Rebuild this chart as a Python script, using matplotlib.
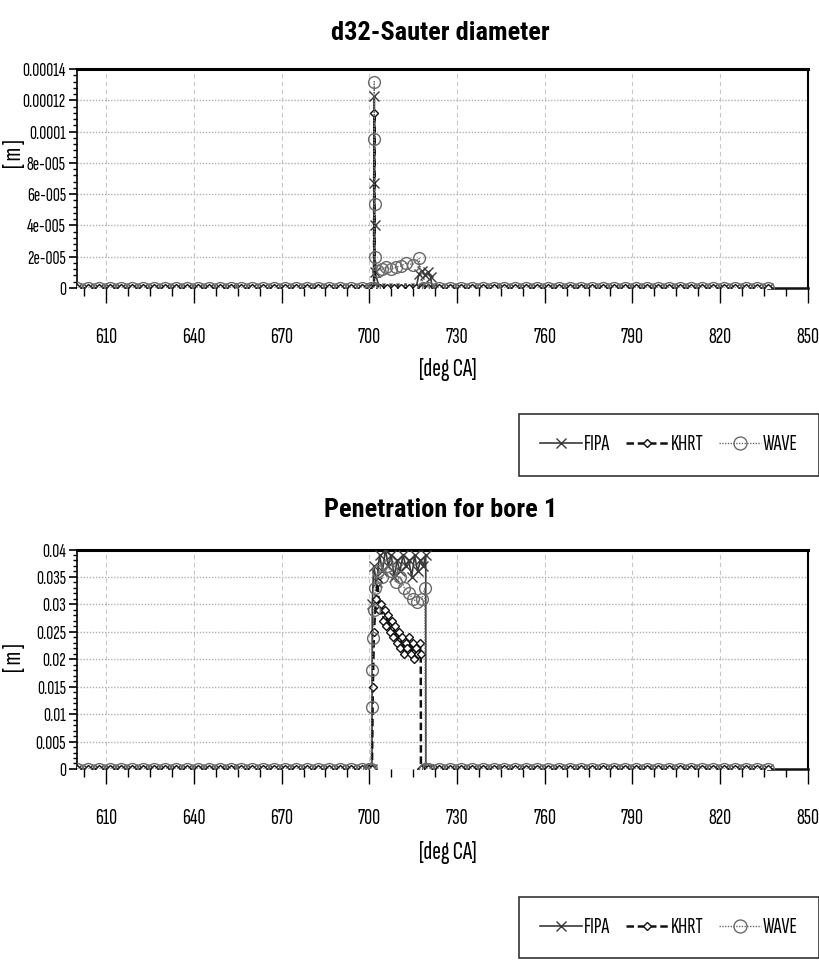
import numpy as np
import matplotlib
matplotlib.use('Agg')
import matplotlib.pyplot as plt
from matplotlib.ticker import FixedLocator, FixedFormatter
from matplotlib.lines import Line2D

plt.rcParams['font.family'] = ['Sofia Sans Extra Condensed', 'Roboto Condensed', 'DejaVu Sans']

# ---------------- data ----------------
# crank-angle grid of the flat (zero) parts, every 3.75 deg
pre_angle = np.arange(600.0, 699.0, 3.75)
post_angle = np.arange(720.0, 838.0, 3.75)
pre_zero = np.zeros_like(pre_angle)
post_zero = np.zeros_like(post_angle)

# d32 - Sauter diameter [m], injection event
d32_fipa_angle = [700.5, 701.6, 701.7, 701.75, 701.8, 701.9, 703.5, 706.0, 708.5, 711.0, 713.5,
                  716.0, 717.0, 718.0, 719.0, 720.0, 721.0, 721.5]
d32_fipa_value = [0.0, 0.0, 1.23e-4, 6.7e-5, 4.0e-5, 1.0e-5, 0.0, 0.0, 0.0, 0.0, 0.0,
                  0.0, 9.0e-6, 1.1e-5, 8.0e-6, 1.0e-5, 7.0e-6, 0.0]
d32_khrt_angle = [700.5, 701.6, 701.7, 701.8, 703.5, 706.0, 708.5, 711.0, 713.5, 716.0, 718.0]
d32_khrt_value = [0.0, 0.0, 1.12e-4, 0.0, 0.0, 0.0, 0.0, 0.0, 0.0, 0.0, 0.0]
d32_wave_angle = [700.5, 701.6, 701.7, 701.75, 701.8, 701.85, 703.0, 704.5, 705.7, 707.5,
                  709.1, 710.8, 712.6, 714.8, 717.0, 718.5]
d32_wave_value = [0.0, 0.0, 1.32e-4, 9.5e-5, 5.4e-5, 2.0e-5, 1.1e-5, 1.2e-5, 1.34e-5, 1.2e-5,
                  1.34e-5, 1.4e-5, 1.6e-5, 1.5e-5, 1.9e-5, 0.0]

# Penetration for bore 1 [m], injection event
pen_fipa_angle = [700.0, 700.9, 701.0, 701.5, 702.5, 703.5, 704.5, 705.5, 706.5, 707.5, 708.5,
                  709.5, 710.5, 711.5, 712.5, 713.5, 714.5, 715.5, 716.5, 717.5, 718.5, 719.3,
                  719.35, 720.0]
pen_fipa_value = [0.0, 0.0, 0.030, 0.037, 0.034, 0.039, 0.036, 0.040, 0.037, 0.039, 0.035,
                  0.038, 0.036, 0.039, 0.037, 0.038, 0.035, 0.039, 0.036, 0.038, 0.037, 0.039,
                  0.0, 0.0]
pen_khrt_angle = [700.0, 700.9, 701.2, 701.6, 702.2, 702.8, 703.4, 704.0, 704.6, 705.2, 705.8,
                  706.4, 707.0, 707.6, 708.2, 708.8, 709.4, 710.0, 710.6, 711.2, 711.8, 712.4,
                  713.0, 713.6, 714.2, 714.8, 715.4, 716.0, 716.6, 717.2, 717.6, 717.65]
pen_khrt_value = [0.0, 0.0, 0.015, 0.025, 0.031, 0.034, 0.029, 0.030, 0.027, 0.029, 0.026,
                  0.028, 0.025, 0.027, 0.024, 0.026, 0.023, 0.025, 0.022, 0.024, 0.021, 0.023,
                  0.022, 0.024, 0.021, 0.023, 0.020, 0.022, 0.021, 0.023, 0.021, 0.0]
pen_wave_angle = [700.0, 700.6, 700.8, 701.0, 701.3, 701.6, 702.0, 703.0, 704.5, 706.0, 707.5,
                  709.0, 710.5, 712.0, 713.5, 715.0, 716.3, 718.0, 719.0, 719.2]
pen_wave_value = [0.0, 0.0, 0.0113, 0.018, 0.0239, 0.029, 0.033, 0.036, 0.035, 0.037, 0.036,
                  0.034, 0.035, 0.033, 0.032, 0.031, 0.0304, 0.031, 0.033, 0.0]

x_ticks = [610, 640, 670, 700, 730, 760, 790, 820, 850]
d32_yticks = [0, 2e-5, 4e-5, 6e-5, 8e-5, 1e-4, 1.2e-4, 1.4e-4]
d32_ylabels = ['0', '2e-005', '4e-005', '6e-005', '8e-005', '0.0001', '0.00012', '0.00014']
pen_yticks = [0, 0.005, 0.01, 0.015, 0.02, 0.025, 0.03, 0.035, 0.04]
pen_ylabels = ['0', '0.005', '0.01', '0.015', '0.02', '0.025', '0.03', '0.035', '0.04']
series_names = ['FIPA', 'KHRT', 'WAVE']

# ---------------- styles ----------------
STY = {
    'FIPA': dict(color='#3a3a3a', ls='-', lw=1.2, marker='x', ms=7, mew=1.0, mfc='none', zorder=3),
    'KHRT': dict(color='#111111', ls=(0, (3, 1.5)), lw=1.8, marker='D', ms=4, mew=1.0, mfc='white', zorder=4),
    'WAVE': dict(color='#6a6a6a', ls=(0, (1, 1)), lw=1.0, marker='o', ms=8.5, mew=1.0, mfc='none', zorder=5),
}
TITLE_FONT = ['Roboto Condensed', 'DejaVu Sans']


def full(a_evt, v_evt):
    a = np.concatenate([pre_angle, np.asarray(a_evt, float), post_angle])
    v = np.concatenate([pre_zero, np.asarray(v_evt, float), post_zero])
    return a, v


fig = plt.figure(figsize=(8.2, 9.6), dpi=100)


def make_panel(rect, title, title_y, xl_y, yl_y, yticks, ylabels, ymax, yminor_step, data, leg_top):
    ax = fig.add_axes(rect)
    for name, (a_evt, v_evt) in zip(series_names, data):
        a, v = full(a_evt, v_evt)
        st = STY[name]
        ax.plot(a, v, color=st['color'], ls=st['ls'], lw=st['lw'], marker=st['marker'],
                ms=st['ms'], mew=st['mew'], mfc=st['mfc'], mec=st['color'], zorder=st['zorder'])
    # flat tail after the markers
    ax.plot([post_angle[-1], 850], [0, 0], color='#111111', lw=1.8, zorder=3, clip_on=False)
    ax.set_xlim(600, 850)
    ax.set_ylim(0, ymax)
    ax.xaxis.set_major_locator(FixedLocator(x_ticks))
    ax.xaxis.set_minor_locator(FixedLocator(list(np.arange(602.5, 850, 7.5))))
    ax.yaxis.set_major_locator(FixedLocator(yticks))
    ax.yaxis.set_major_formatter(FixedFormatter(ylabels))
    ax.yaxis.set_minor_locator(FixedLocator(list(np.arange(0, ymax + 1e-12, yminor_step))))
    ax.tick_params(axis='x', which='major', direction='out', length=11, width=1, labelsize=16, pad=18)
    ax.tick_params(axis='x', which='minor', direction='out', length=6, width=1)
    ax.tick_params(axis='y', which='major', direction='out', length=6, width=1.2, labelsize=14, pad=2)
    ax.tick_params(axis='y', which='minor', direction='out', length=3, width=1)
    ax.grid(True, axis='x', which='major', color='#c8c8c8', ls=(0, (4, 3)), lw=0.8)
    ax.grid(True, axis='y', which='major', color='#b0b0b0', ls=(0, (1, 1.2)), lw=1.0)
    ax.set_axisbelow(True)
    ax.spines['top'].set_linewidth(2.2)
    ax.spines['right'].set_linewidth(1.5)
    ax.spines['left'].set_linewidth(1.2)
    ax.spines['bottom'].set_visible(False)
    for s in ax.spines.values():
        s.set_color('black')

    fig.text(0.537, title_y, title, ha='center', va='center', fontsize=19, fontweight='bold',
             family=TITLE_FONT)
    fig.text(0.546, xl_y, '[deg CA]', ha='center', va='center', fontsize=19)
    fig.text(0.018, yl_y, '[ m ]', ha='center', va='center', fontsize=19, rotation=90)

    handles = [Line2D([], [], color=STY[n]['color'], ls=STY[n]['ls'], lw=STY[n]['lw'],
                      marker=STY[n]['marker'], ms=STY[n]['ms'] * 1.1, mew=STY[n]['mew'],
                      mfc=STY[n]['mfc'], mec=STY[n]['color']) for n in series_names]
    leg = fig.legend(handles, series_names, loc='upper right', bbox_to_anchor=(0.999, leg_top),
                     ncol=3, fontsize=16, frameon=True, fancybox=False, handlelength=1.9,
                     handletextpad=0.1, columnspacing=0.7, borderpad=0.95, markerscale=1.0,
                     borderaxespad=0.0)
    leg.get_frame().set_edgecolor('black')
    leg.get_frame().set_linewidth(1.2)
    return ax


make_panel([0.094, 0.700, 0.891, 0.228], 'd32-Sauter diameter', 0.9655, 0.6146, 0.84,
           d32_yticks, d32_ylabels, 1.4e-4, 4e-6,
           [(d32_fipa_angle, d32_fipa_value), (d32_khrt_angle, d32_khrt_value),
            (d32_wave_angle, d32_wave_value)], 0.569)
make_panel([0.094, 0.199, 0.891, 0.2286], 'Penetration for bore 1', 0.469, 0.1125, 0.315,
           pen_yticks, pen_ylabels, 0.04, 0.001,
           [(pen_fipa_angle, pen_fipa_value), (pen_khrt_angle, pen_khrt_value),
            (pen_wave_angle, pen_wave_value)], 0.066)

fig.savefig('out.png', dpi=100)
